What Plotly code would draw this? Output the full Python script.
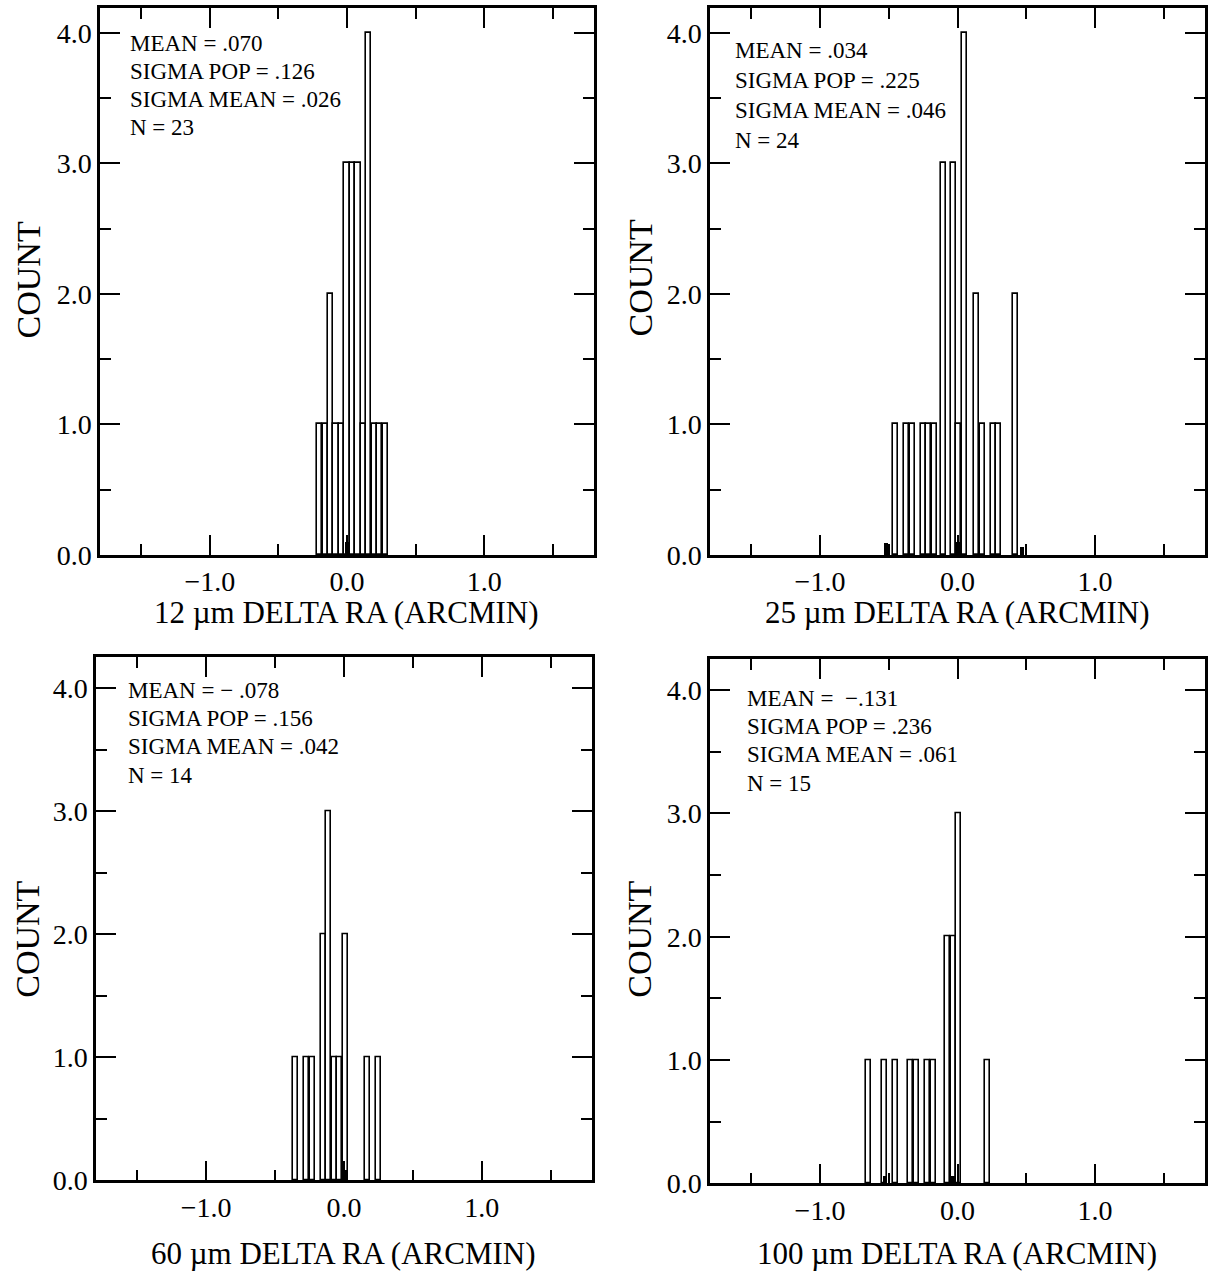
import plotly.graph_objects as go

W, H = 1210, 1283

# ---------------- data ----------------
# 12 um panel
x12 = [-0.20, -0.16, -0.12, -0.08, -0.04, 0.00, 0.04, 0.08, 0.12, 0.16, 0.20, 0.24, 0.28]
c12 = [1, 1, 2, 1, 1, 3, 3, 3, 1, 4, 1, 1, 1]
mk12_x = [0.0]
mk12_h = [0.10]
stats12 = ["MEAN = .070", "SIGMA POP = .126", "SIGMA MEAN = .026", "N = 23"]

# 25 um panel
x25 = [-0.45, -0.37, -0.33, -0.25, -0.21, -0.17, -0.10, -0.03, 0.01, 0.05, 0.14, 0.18, 0.26, 0.30, 0.42]
c25 = [1, 1, 1, 1, 1, 1, 3, 3, 1, 4, 2, 1, 1, 1, 2]
mk25_x = [-0.52, 0.0, 0.47]
mk25_h = [0.09, 0.10, 0.06]
stats25 = ["MEAN = .034", "SIGMA POP = .225", "SIGMA MEAN = .046", "N = 24"]

# 60 um panel
x60 = [-0.35, -0.27, -0.23, -0.15, -0.11, -0.07, -0.03, 0.01, 0.17, 0.25]
c60 = [1, 1, 1, 2, 3, 1, 1, 2, 1, 1]
mk60_x = [0.01]
mk60_h = [0.08]
stats60 = ["MEAN = \u2212 .078", "SIGMA POP = .156", "SIGMA MEAN = .042", "N = 14"]

# 100 um panel
x100 = [-0.65, -0.53, -0.45, -0.34, -0.30, -0.215, -0.175, -0.07, -0.03, 0.01, 0.22]
c100 = [1, 1, 1, 1, 1, 1, 1, 2, 2, 3, 1]
mk100_x = [-0.53, -0.03]
mk100_h = [0.06, 0.06]
stats100 = ["MEAN =  \u2212.131", "SIGMA POP = .236", "SIGMA MEAN = .061", "N = 15"]

xtitles = ["12 \u00b5m DELTA RA (ARCMIN)", "25 \u00b5m DELTA RA (ARCMIN)",
           "60 \u00b5m DELTA RA (ARCMIN)", "100 \u00b5m DELTA RA (ARCMIN)"]
ytitle = "COUNT"
xtick_vals = [-1.0, 0.0, 1.0]
xtick_text = ["\u22121.0", "0.0", "1.0"]
xminor_vals = [-1.5, -0.5, 0.5, 1.5]
ytick_vals = [0, 1, 2, 3, 4]
ytick_text = ["0.0", "1.0", "2.0", "3.0", "4.0"]
yminor_vals = [0.5, 1.5, 2.5, 3.5]

# ---------------- layout geometry (pixels) ----------------
FONT = "Liberation Serif"
BAR_W = 0.037
MARK_W = 0.03
YS = 1.007  # small vertical correction factor

panels = [
    dict(x=x12, c=c12, mx=mk12_x, mh=mk12_h, stats=stats12, title=xtitles[0],
         dx=(100, 594), dy=(8, 558), yr=[0, 4.19], sx=128, sy=44, sdy=28,
         tx=346, ty=616, yx=28, yy=282),
    dict(x=x25, c=c25, mx=mk25_x, mh=mk25_h, stats=stats25, title=xtitles[1],
         dx=(710, 1205), dy=(8, 558), yr=[0, 4.19], sx=733, sy=51, sdy=30,
         tx=957, ty=616, yx=640, yy=280),
    dict(x=x60, c=c60, mx=mk60_x, mh=mk60_h, stats=stats60, title=xtitles[2],
         dx=(96, 592), dy=(661, 1187), yr=[0, 4.25], sx=126, sy=694, sdy=28.5,
         tx=343, ty=1261, yx=28, yy=945),
    dict(x=x100, c=c100, mx=mk100_x, mh=mk100_h, stats=stats100, title=xtitles[3],
         dx=(710, 1205), dy=(663, 1190), yr=[0, 4.25], sx=745, sy=702, sdy=28.5,
         tx=957, ty=1261, yx=640, yy=945),
]


def fx(px):
    return px / W


def fy(py):
    return 1 - min(py * YS, H) / H


fig = go.Figure()
annotations = []
layout = {}

for i, p in enumerate(panels, start=1):
    xa = "x" if i == 1 else f"x{i}"
    ya = "y" if i == 1 else f"y{i}"
    fig.add_trace(go.Bar(
        x=p["x"], y=p["c"], width=[BAR_W] * len(p["x"]),
        marker=dict(color="white", line=dict(color="black", width=1.6)),
        xaxis=xa, yaxis=ya, showlegend=False,
    ))
    fig.add_trace(go.Bar(
        x=p["mx"], y=p["mh"], width=[MARK_W] * len(p["mx"]),
        marker=dict(color="black", line=dict(color="black", width=0)),
        xaxis=xa, yaxis=ya, showlegend=False,
    ))
    axis_common = dict(
        showline=True, linewidth=2.5, linecolor="black", mirror="allticks",
        ticks="inside", ticklen=20, tickwidth=2.2, tickcolor="black",
        showgrid=False, zeroline=False,
        tickfont=dict(family=FONT, size=28, color="black"),
    )
    layout["xaxis" if i == 1 else f"xaxis{i}"] = dict(
        axis_common,
        domain=[fx(p["dx"][0]), fx(p["dx"][1])],
        range=[-1.8, 1.8], anchor=ya,
        tickmode="array", tickvals=xtick_vals, ticktext=xtick_text,
        minor=dict(tickmode="array", tickvals=xminor_vals, ticks="inside",
                   ticklen=11, tickwidth=2.2, tickcolor="black", showgrid=False),
    )
    layout["yaxis" if i == 1 else f"yaxis{i}"] = dict(
        axis_common,
        domain=[fy(p["dy"][1]), fy(p["dy"][0])],
        range=p["yr"], anchor=xa,
        tickmode="array", tickvals=ytick_vals, ticktext=ytick_text,
        minor=dict(tickmode="array", tickvals=yminor_vals, ticks="inside",
                   ticklen=11, tickwidth=2.2, tickcolor="black", showgrid=False),
    )
    for k, line in enumerate(p["stats"]):
        annotations.append(dict(
            x=fx(p["sx"]), y=fy(p["sy"] + k * p["sdy"]), xref="paper", yref="paper",
            text=line, showarrow=False, xanchor="left", yanchor="middle",
            font=dict(family=FONT, size=23, color="black"),
        ))
    annotations.append(dict(
        x=fx(p["tx"]), y=fy(p["ty"]), xref="paper", yref="paper",
        text=p["title"], showarrow=False, xanchor="center", yanchor="middle",
        font=dict(family=FONT, size=31, color="black"),
    ))
    annotations.append(dict(
        x=fx(p["yx"]), y=fy(p["yy"]), xref="paper", yref="paper",
        text=ytitle, showarrow=False, xanchor="center", yanchor="middle",
        textangle=-90, font=dict(family=FONT, size=34, color="black"),
    ))

fig.update_layout(
    width=W, height=H, margin=dict(l=0, r=0, t=0, b=0),
    paper_bgcolor="white", plot_bgcolor="white",
    barmode="overlay", bargap=0, showlegend=False,
    annotations=annotations, **layout,
)

fig.write_html("out.html")
